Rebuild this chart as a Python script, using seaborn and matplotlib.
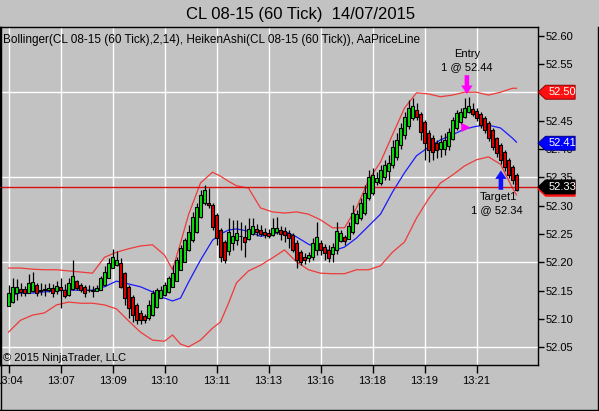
import numpy as np
import pandas as pd
import matplotlib
matplotlib.use("Agg")
import matplotlib.pyplot as plt
import matplotlib.transforms as mtransforms
from matplotlib.patches import Polygon
from matplotlib.lines import Line2D
import seaborn as sns

# Heiken Ashi candles, one entry per 60-tick bar
opens = [52.123, 52.130, 52.146, 52.153, 52.153, 52.146, 52.150, 52.160, 52.152, 52.151,
         52.152, 52.155, 52.150, 52.157, 52.151, 52.143, 52.153, 52.167, 52.161, 52.157,
         52.152, 52.151, 52.150, 52.151, 52.160, 52.172, 52.190, 52.196, 52.199, 52.181,
         52.157, 52.139, 52.125, 52.111, 52.105, 52.102, 52.107, 52.121, 52.137, 52.142,
         52.148, 52.156, 52.168, 52.186, 52.200, 52.222, 52.239, 52.253, 52.280, 52.305,
         52.305, 52.301, 52.283, 52.257, 52.236, 52.220, 52.235, 52.239, 52.246, 52.245,
         52.241, 52.250, 52.259, 52.257, 52.253, 52.251, 52.248, 52.253, 52.257, 52.255,
         52.252, 52.248, 52.235, 52.218, 52.209, 52.208, 52.210, 52.222, 52.234, 52.228,
         52.222, 52.215, 52.221, 52.238, 52.245, 52.241, 52.253, 52.270, 52.278, 52.287,
         52.314, 52.322, 52.342, 52.340, 52.351, 52.362, 52.371, 52.385, 52.407, 52.424,
         52.440, 52.454, 52.469, 52.462, 52.447, 52.428, 52.419, 52.410, 52.400, 52.400,
         52.406, 52.418, 52.437, 52.447, 52.456, 52.465, 52.471, 52.467, 52.461, 52.454,
         52.445, 52.433, 52.419, 52.407, 52.395, 52.380, 52.368, 52.354]
closes = [52.146, 52.157, 52.157, 52.148, 52.146, 52.164, 52.166, 52.146, 52.150, 52.153,
          52.155, 52.146, 52.158, 52.151, 52.141, 52.164, 52.176, 52.155, 52.151, 52.146,
          52.151, 52.150, 52.155, 52.172, 52.183, 52.199, 52.209, 52.204, 52.157, 52.137,
          52.119, 52.107, 52.098, 52.098, 52.098, 52.125, 52.146, 52.151, 52.151, 52.160,
          52.172, 52.181, 52.204, 52.225, 52.239, 52.253, 52.280, 52.297, 52.319, 52.328,
          52.301, 52.262, 52.243, 52.210, 52.204, 52.253, 52.246, 52.251, 52.247, 52.236,
          52.259, 52.264, 52.253, 52.250, 52.248, 52.246, 52.261, 52.261, 52.250, 52.248,
          52.243, 52.222, 52.204, 52.200, 52.204, 52.213, 52.234, 52.245, 52.222, 52.217,
          52.208, 52.227, 52.255, 52.251, 52.238, 52.264, 52.287, 52.285, 52.304, 52.322,
          52.350, 52.354, 52.349, 52.363, 52.372, 52.375, 52.403, 52.416, 52.437, 52.456,
          52.472, 52.475, 52.456, 52.430, 52.410, 52.398, 52.394, 52.398, 52.412, 52.416,
          52.430, 52.451, 52.463, 52.465, 52.472, 52.476, 52.462, 52.454, 52.442, 52.433,
          52.419, 52.403, 52.393, 52.380, 52.368, 52.354, 52.345, 52.328]
highs = [52.160, 52.172, 52.171, 52.164, 52.158, 52.180, 52.183, 52.164, 52.164, 52.162,
         52.164, 52.162, 52.167, 52.172, 52.162, 52.172, 52.204, 52.169, 52.164, 52.160,
         52.160, 52.158, 52.160, 52.176, 52.194, 52.208, 52.224, 52.220, 52.208, 52.183,
         52.160, 52.143, 52.128, 52.116, 52.109, 52.134, 52.151, 52.155, 52.158, 52.165,
         52.176, 52.195, 52.209, 52.231, 52.243, 52.266, 52.289, 52.305, 52.328, 52.336,
         52.331, 52.305, 52.287, 52.261, 52.239, 52.278, 52.275, 52.275, 52.271, 52.266,
         52.278, 52.278, 52.268, 52.266, 52.261, 52.259, 52.278, 52.280, 52.264, 52.262,
         52.257, 52.252, 52.239, 52.222, 52.217, 52.218, 52.243, 52.271, 52.239, 52.232,
         52.231, 52.234, 52.271, 52.257, 52.248, 52.271, 52.301, 52.292, 52.314, 52.336,
         52.363, 52.366, 52.359, 52.372, 52.381, 52.389, 52.416, 52.428, 52.446, 52.465,
         52.486, 52.490, 52.481, 52.465, 52.451, 52.433, 52.425, 52.416, 52.425, 52.428,
         52.437, 52.456, 52.469, 52.472, 52.490, 52.492, 52.481, 52.472, 52.465, 52.458,
         52.449, 52.437, 52.421, 52.410, 52.398, 52.384, 52.372, 52.357]
lows = [52.123, 52.128, 52.134, 52.141, 52.141, 52.146, 52.148, 52.141, 52.143, 52.141,
        52.148, 52.139, 52.144, 52.120, 52.137, 52.141, 52.151, 52.151, 52.148, 52.139,
        52.148, 52.139, 52.150, 52.151, 52.158, 52.172, 52.190, 52.194, 52.155, 52.125,
        52.102, 52.095, 52.091, 52.091, 52.093, 52.098, 52.106, 52.120, 52.137, 52.141,
        52.146, 52.157, 52.169, 52.187, 52.201, 52.220, 52.236, 52.252, 52.278, 52.301,
        52.296, 52.257, 52.231, 52.201, 52.199, 52.213, 52.222, 52.231, 52.222, 52.209,
        52.239, 52.248, 52.246, 52.246, 52.243, 52.243, 52.246, 52.250, 52.239, 52.236,
        52.225, 52.218, 52.190, 52.195, 52.197, 52.201, 52.204, 52.213, 52.213, 52.204,
        52.201, 52.201, 52.215, 52.236, 52.231, 52.241, 52.250, 52.268, 52.275, 52.284,
        52.310, 52.319, 52.336, 52.336, 52.345, 52.345, 52.366, 52.380, 52.400, 52.418,
        52.435, 52.451, 52.451, 52.416, 52.381, 52.377, 52.381, 52.384, 52.386, 52.389,
        52.398, 52.416, 52.433, 52.444, 52.454, 52.463, 52.458, 52.449, 52.437, 52.428,
        52.414, 52.398, 52.386, 52.374, 52.361, 52.348, 52.338, 52.326]

# Bollinger(14, 2) at these bars
band_idx = [0, 3, 6, 9, 12, 15, 18, 21, 24, 27, 30, 33, 36, 39, 41, 43, 45, 48, 51, 53,
            55, 57, 60, 63, 66, 69, 72, 75, 78, 81, 84, 87, 90, 93, 96, 99, 102, 105, 108,
            111, 114, 117, 120, 123, 126, 127]
upper = [52.190, 52.190, 52.188, 52.187, 52.187, 52.185, 52.183, 52.181, 52.209, 52.218,
         52.224, 52.229, 52.231, 52.213, 52.187, 52.234, 52.284, 52.340, 52.359, 52.352,
         52.343, 52.335, 52.331, 52.296, 52.289, 52.287, 52.289, 52.285, 52.275, 52.261,
         52.261, 52.296, 52.345, 52.377, 52.425, 52.472, 52.499, 52.497, 52.492, 52.495,
         52.500, 52.500, 52.495, 52.500, 52.507, 52.507]
middle = [52.141, 52.146, 52.146, 52.148, 52.150, 52.151, 52.151, 52.151, 52.157, 52.167,
          52.162, 52.157, 52.148, 52.137, 52.132, 52.137, 52.165, 52.204, 52.239, 52.250,
          52.257, 52.259, 52.255, 52.246, 52.250, 52.255, 52.245, 52.232, 52.224, 52.220,
          52.227, 52.243, 52.264, 52.285, 52.324, 52.358, 52.388, 52.403, 52.416, 52.425,
          52.435, 52.440, 52.442, 52.437, 52.419, 52.412]
lower = [52.077, 52.098, 52.107, 52.111, 52.125, 52.130, 52.128, 52.128, 52.125, 52.118,
         52.097, 52.077, 52.063, 52.061, 52.072, 52.056, 52.051, 52.063, 52.084, 52.095,
         52.128, 52.164, 52.185, 52.195, 52.208, 52.222, 52.201, 52.187, 52.181, 52.180,
         52.180, 52.187, 52.187, 52.194, 52.218, 52.236, 52.278, 52.312, 52.340, 52.354,
         52.370, 52.381, 52.386, 52.373, 52.331, 52.319]

tick_pos = [0, 13, 26, 39, 52, 65, 78, 91, 104, 117]
tick_labels = ["13:04", "13:07", "13:09", "13:10", "13:11", "13:13",
               "13:16", "13:18", "13:19", "13:21"]
price_ticks = [52.05, 52.10, 52.15, 52.20, 52.25, 52.30, 52.35, 52.40, 52.45, 52.50, 52.55, 52.60]
grid_prices = [52.05, 52.20, 52.35, 52.50]
last_price = 52.333
upper_last = 52.50
middle_last = 52.41

plt.rcParams['font.family'] = ['Liberation Sans', 'DejaVu Sans']

bg = '#c2c2c2'
fig = plt.figure(figsize=(5.99, 4.11), dpi=100, facecolor=bg)
ax = fig.add_axes([0, 46 / 411, 538 / 599, 338 / 411], facecolor=bg)

# grid
for gp in grid_prices:
    ax.axhline(gp, color='white', lw=1, zorder=1)
for tp in tick_pos:
    ax.axvline(tp, color='white', lw=1, zorder=1)

# bollinger bands
bands = pd.DataFrame({'bar': band_idx, 'upper': upper, 'middle': middle, 'lower': lower})
sns.lineplot(data=bands, x='bar', y='upper', color='#f03a3a', lw=0.9, ax=ax, zorder=2)
sns.lineplot(data=bands, x='bar', y='lower', color='#f03a3a', lw=0.9, ax=ax, zorder=2)
sns.lineplot(data=bands, x='bar', y='middle', color='#1a1aff', lw=0.9, ax=ax, zorder=2)

# price line
ax.axhline(last_price, color='#d81010', lw=1, zorder=2.6)

# candles
o = np.array(opens)
c = np.array(closes)
x = np.arange(len(o))
cols = ['#10e010' if cc >= oo else '#e00000' for oo, cc in zip(o, c)]
ax.vlines(x, lows, highs, color='black', lw=0.9, zorder=3)
body = np.maximum(np.abs(c - o), 0.0012)
ax.bar(x, body, bottom=np.minimum(o, c), width=0.86, color=cols,
       edgecolor='black', lw=0.8, zorder=4)

ax.set_xlim(-2.125, 132.375)
ax.set_ylim(52.0191, 52.615)
ax.set_xticks(tick_pos)
ax.set_xticklabels(tick_labels)
ax.yaxis.tick_right()
ax.set_yticks(price_ticks)
ax.set_yticklabels([f"{p:.2f}" for p in price_ticks])
ax.tick_params(axis='x', direction='out', length=6, width=1, pad=2, labelsize=8, colors='black')
ax.tick_params(axis='y', direction='out', length=4, width=1, pad=1.5, labelsize=8, colors='black')
ax.set_xlabel('')
ax.set_ylabel('')
for s in ax.spines.values():
    s.set_color('black')
    s.set_linewidth(1)

# price tags on the axis
trans = mtransforms.blended_transform_factory(ax.transAxes, ax.transData)


def tag(price, fill, label=None, edge='black'):
    h = 0.0123
    pts = [(1.0, price), (1.014, price + h), (1.069, price + h),
           (1.069, price - h), (1.014, price - h)]
    ax.add_patch(Polygon(pts, closed=True, transform=trans, facecolor=fill,
                         edgecolor=edge, lw=0.7, clip_on=False, zorder=6))
    if label:
        ax.text(1.019, price, label, transform=trans, color='white', fontsize=8,
                va='center', ha='left', clip_on=False, zorder=7)


tag(upper_last, '#ff1010', f"{upper_last:.2f}", edge='#900000')
tag(middle_last, '#0000ff', f"{middle_last:.2f}", edge='#000080')
tag(last_price - 0.004, '#ff1010', None, edge='#ff1010')
tag(last_price, '#000000', f"{last_price:.2f}")

# trade markers
arrow_style = 'simple,head_width=0.75,head_length=0.55,tail_width=0.3'
ax.annotate('', xy=(114.6, 52.497), xytext=(114.6, 52.530),
            arrowprops=dict(arrowstyle=arrow_style, color='#ff00ff', lw=0,
                            mutation_scale=11, shrinkA=0, shrinkB=0), zorder=8)
ax.scatter([114.1], [52.439], marker='>', s=26, color='#ff00ff', zorder=8)
ax.annotate('', xy=(123.1, 52.362), xytext=(123.1, 52.328),
            arrowprops=dict(arrowstyle=arrow_style, color='#1010ff', lw=0,
                            mutation_scale=11, shrinkA=0, shrinkB=0), zorder=8)
ax.text(114.6, 52.567, "Entry", ha='center', va='center', fontsize=8, zorder=8)
ax.text(114.6, 52.544, "1 @ 52.44", ha='center', va='center', fontsize=8, zorder=8)
ax.text(122.4, 52.315, "Target1", ha='center', va='center', fontsize=8, zorder=8)
ax.text(122.1, 52.292, "1 @ 52.34", ha='center', va='center', fontsize=8, zorder=8)

# texts
fig.text(301 / 599, 1 - 14 / 411, "CL 08-15 (60 Tick)  14/07/2015", ha='center', va='center', fontsize=12)
ax.text(3 / 538, 1 - 13 / 338, "Bollinger(CL 08-15 (60 Tick),2,14), HeikenAshi(CL 08-15 (60 Tick)), AaPriceLine",
        transform=ax.transAxes, ha='left', va='center', fontsize=8.5, zorder=8)
ax.text(3 / 538, 7 / 338, "\u00a9 2015 NinjaTrader, LLC", transform=ax.transAxes,
        ha='left', va='center', fontsize=8, zorder=8)

# window frame
fig.add_artist(Line2D([597.5 / 599, 597.5 / 599], [1.5 / 411, 1 - 27 / 411], color='black', lw=1))
fig.add_artist(Line2D([0, 597.5 / 599], [1.5 / 411, 1.5 / 411], color='black', lw=1))
fig.add_artist(Line2D([0.5 / 599, 0.5 / 599], [1.5 / 411, 1 - 27 / 411], color='black', lw=1))

fig.savefig("out.png", dpi=100, facecolor=bg)
